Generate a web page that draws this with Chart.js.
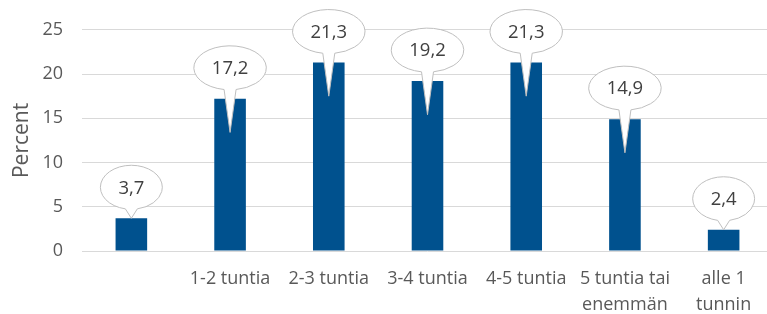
<!DOCTYPE html>
<html>
<head>
<meta charset="utf-8">
<script src="https://cdn.jsdelivr.net/npm/chart.js@4.4.1/dist/chart.umd.min.js"></script>
<style>
  html, body { margin: 0; padding: 0; background: #fff; overflow: hidden; }
  #wrap { width: 774px; height: 314px; position: relative; }
</style>
</head>
<body>
<div id="wrap"><canvas id="c"></canvas></div>
<script>
// ---- data ----
const categories = ['', '1-2 tuntia', '2-3 tuntia', '3-4 tuntia', '4-5 tuntia', ['5 tuntia tai', 'enemmän'], ['alle 1', 'tunnin']];
const values = [3.7, 17.2, 21.3, 19.2, 21.3, 14.9, 2.4];
const valueLabels = ['3,7', '17,2', '21,3', '19,2', '21,3', '14,9', '2,4'];
const yTicks = [0, 5, 10, 15, 20, 25];
const yTitle = 'Percent';

const FONT = '"Open Sans", "Noto Sans", sans-serif';
const TIP_DROP = 3.8; // callout pointer reaches into tall bars (value units)

const calloutPlugin = {
  id: 'callouts',
  afterDatasetsDraw(chart) {
    const ctx = chart.ctx;
    const meta = chart.getDatasetMeta(0);
    const y = chart.scales.y;
    ctx.save();
    ctx.font = '18.5px ' + FONT;
    meta.data.forEach((bar, i) => {
      const v = values[i];
      const txt = valueLabels[i];
      const tw = ctx.measureText(txt).width;
      const rx = tw / 2 + 18, ry = 22;
      const cx = bar.x;
      const top = y.getPixelForValue(v);
      const cy = top - 31;
      const tipY = v > 10 ? y.getPixelForValue(v - TIP_DROP) : top;
      const hw = 6;
      const a1 = Math.acos(hw / rx);
      const a2 = Math.PI - a1;
      ctx.beginPath();
      ctx.ellipse(cx, cy, rx, ry, 0, a2, a1 + 2 * Math.PI, false);
      ctx.lineTo(cx, tipY);
      ctx.closePath();
      ctx.fillStyle = '#ffffff';
      ctx.fill();
      ctx.strokeStyle = '#BFBFBF';
      ctx.lineWidth = 1;
      ctx.stroke();
      ctx.fillStyle = '#404040';
      ctx.textAlign = 'center';
      ctx.textBaseline = 'middle';
      ctx.fillText(txt, cx, cy + 1);
    });
    ctx.restore();
  }
};

new Chart(document.getElementById('c'), {
  type: 'bar',
  data: {
    labels: categories,
    datasets: [{
      data: values,
      backgroundColor: '#00518E',
      borderWidth: 0,
      barPercentage: 0.32,
      categoryPercentage: 1
    }]
  },
  options: {
    responsive: true,
    maintainAspectRatio: false,
    animation: false,
    events: [],
    layout: { padding: { top: 28, right: 1, left: 0, bottom: 0 } },
    plugins: { legend: { display: false }, tooltip: { enabled: false } },
    scales: {
      x: {
        grid: { display: false, drawTicks: false },
        border: { display: false },
        ticks: {
          color: '#595959',
          font: { family: FONT, size: 18, lineHeight: '26px' },
          padding: 15,
          maxRotation: 0,
          autoSkip: false
        },
        afterFit(s) { s.height = 63; }
      },
      y: {
        min: 0, max: 25,
        afterBuildTicks(s) { s.ticks = yTicks.map(v => ({ value: v })); },
        grid: { color: '#D9D9D9', lineWidth: 1, drawTicks: false },
        border: { display: false },
        ticks: {
          color: '#595959',
          font: { family: FONT, size: 18 },
          padding: 19
        },
        title: {
          display: true,
          text: yTitle,
          color: '#595959',
          font: { family: FONT, size: 21 },
          padding: { top: 9, bottom: 0 }
        },
        afterFit(s) { s.width = 82; }
      }
    }
  },
  plugins: [calloutPlugin]
});
</script>
</body>
</html>
